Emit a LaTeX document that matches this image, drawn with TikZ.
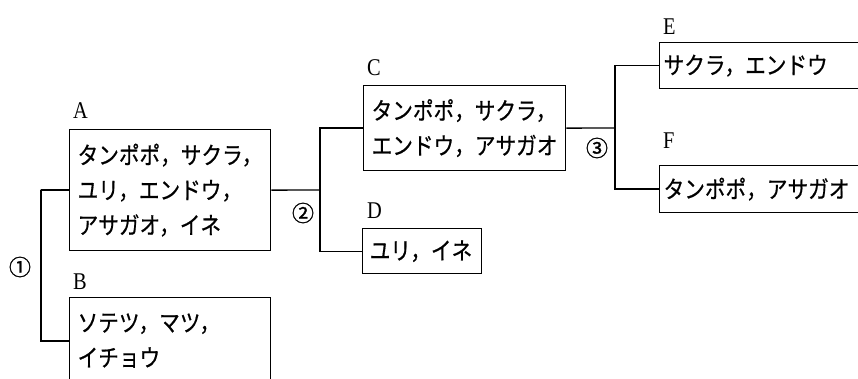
\documentclass[tikz,border=0pt]{standalone}
\usepackage{fontspec}
\usetikzlibrary{calc}
\setmainfont{Liberation Serif}
\newfontfamily\jp[FakeStretch=0.86,FakeBold=0.6]{Noto Sans CJK JP}
\newfontfamily\jpnum[FakeBold=1.2]{Noto Sans CJK JP}
\newfontfamily\labfont[FakeStretch=0.85]{Liberation Serif}
\begin{document}
\begin{tikzpicture}[x=1pt,y=-1pt,
  box/.style={draw,line width=1.3pt,anchor=north west,align=left,inner ysep=0pt,
    font=\jp\fontsize{24}{35}\selectfont},
  lab/.style={anchor=west,inner sep=0pt,font=\labfont\fontsize{24}{26}\selectfont},
  num/.style={inner sep=0pt,font=\jpnum\fontsize{22}{24}\selectfont},
  conn/.style={line width=1.3pt}]
\useasboundingbox (0,0) rectangle (858,379);
\clip (0,0) rectangle (858,379);
% boxes
\node[box,text width=185pt,inner xsep=8pt,minimum height=121pt] (A) at (69,129)
  {タンポポ，サクラ，\\ユリ，エンドウ，\\アサガオ，イネ};
\node[box,text width=185pt,inner xsep=8pt,minimum height=86pt] (B) at (69,297)
  {ソテツ，マツ，\\イチョウ};
\node[box,text width=186pt,inner xsep=8pt,minimum height=85pt] (C) at (363,85)
  {タンポポ，サクラ，\\エンドウ，アサガオ};
\node[box,text width=105pt,inner xsep=7pt,minimum height=45pt] (D) at (362,228)
  {ユリ，イネ};
\node[box,text width=240pt,inner xsep=4pt,minimum height=46pt] (E) at (659,42)
  {サクラ，エンドウ};
\node[box,text width=240pt,inner xsep=4pt,minimum height=47pt] (F) at (659,165)
  {タンポポ，アサガオ};
% labels
\node[lab] (la) at (73,111) {A};
\node[lab] (lb) at (73,282) {B};
\node[lab] (lc) at (367,68) {C};
\node[lab] (ld) at (367,211) {D};
\node[lab] (le) at (663,27) {E};
\node[lab] (lf) at (663,141) {F};
% step numbers
\node[num] (n1) at (20,267) {①};
\node[num] (n2) at (303,213) {②};
\node[num] (n3) at (597,148) {③};
% connectors
\coordinate (b1) at ($(B.north west)+(0,44)$);
\coordinate (j1) at (41,190);
\coordinate (j2) at (320,190);
\coordinate (j3) at (615,128);
\draw[conn] (A.west) -| (j1) |- (b1);
\draw[conn] (A.east) -- (j2);
\draw[conn] (C.west) -| (j2) |- (D.west);
\draw[conn] (C.east) -- (j3);
\draw[conn] (E.west) -| (j3) |- (F.west);
\end{tikzpicture}
\end{document}
